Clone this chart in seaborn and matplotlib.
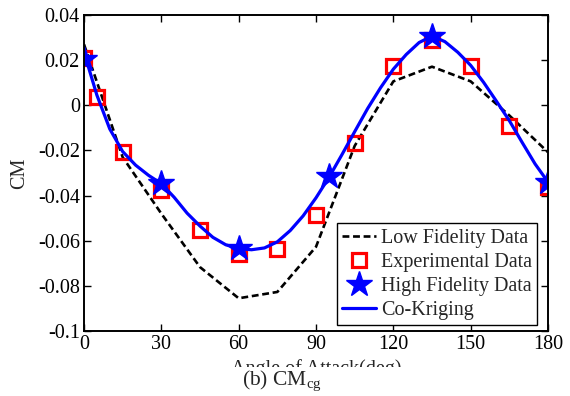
import matplotlib
matplotlib.use("Agg")
import matplotlib.pyplot as plt
import seaborn as sns
import pandas as pd
from matplotlib.patches import Rectangle

# ---- data ----
low_x = [0, 15, 30, 45, 60, 75, 90, 105, 120, 135, 150, 165, 180]
low_y = [0.027, -0.023, -0.048, -0.0717, -0.0855, -0.0827, -0.0627, -0.0180,
         0.0106, 0.0171, 0.0106, -0.0045, -0.0208]

exp_x = [0, 5, 15, 30, 45, 60, 75, 90, 105, 120, 135, 150, 165, 180]
exp_y = [0.021, 0.0038, -0.0208, -0.0375, -0.0554, -0.066, -0.0635, -0.0485,
         -0.0165, 0.0175, 0.029, 0.0175, -0.0092, -0.0361]

hf_x = [0, 30, 60, 95, 135, 180]
hf_y = [0.0204, -0.0345, -0.0633, -0.0315, 0.0308, -0.0340]

ck_x = [0, 5, 10, 15, 20, 25, 30, 35, 40, 45, 50, 55, 60, 65, 70, 75, 80, 85,
        90, 95, 100, 105, 110, 115, 120, 125, 130, 135, 140, 145, 150, 155,
        160, 165, 170, 175, 180]
ck_y = [0.0235, 0.0045, -0.0105, -0.0205, -0.0265, -0.0310, -0.0347, -0.0408,
        -0.0478, -0.0535, -0.0585, -0.0618, -0.0635, -0.0640, -0.0632,
        -0.0605, -0.0555, -0.0490, -0.0410, -0.0320, -0.0220, -0.0117,
        -0.0015, 0.0077, 0.0160, 0.0225, 0.0278, 0.0307, 0.0282, 0.0235,
        0.0177, 0.0102, 0.0018, -0.0068, -0.0165, -0.0260, -0.0340]

xticks = [0, 30, 60, 90, 120, 150, 180]
yticks = [0.04, 0.02, 0, -0.02, -0.04, -0.06, -0.08, -0.1]
ytick_labels = ["0.04", "0.02", "0", "-0.02", "-0.04", "-0.06", "-0.08", "-0.1"]

labels = ["Low Fidelity Data", "Experimental Data", "High Fidelity Data", "Co-Kriging"]

# ---- style ----
sns.set_style("ticks")
plt.rcParams["font.family"] = ["Liberation Serif", "DejaVu Serif"]
plt.rcParams["mathtext.fontset"] = "custom"
plt.rcParams["mathtext.rm"] = "Liberation Serif"
plt.rcParams["mathtext.it"] = "Liberation Serif:italic"
plt.rcParams["mathtext.bf"] = "Liberation Serif:bold"

FS = 14.5

fig = plt.figure(figsize=(5.70, 3.96), dpi=100)
ax = fig.add_axes([84/570, 65/396, 464/570, 316/396])

df_low = pd.DataFrame({"x": low_x, "y": low_y})
df_exp = pd.DataFrame({"x": exp_x, "y": exp_y})
df_hf = pd.DataFrame({"x": hf_x, "y": hf_y})
df_ck = pd.DataFrame({"x": ck_x, "y": ck_y})

sns.lineplot(data=df_low, x="x", y="y", ax=ax, color="black", linewidth=1.9,
             dashes=False, linestyle=(0, (2.6, 1.4)), label=labels[0],
             sort=False, estimator=None)
sns.lineplot(data=df_exp, x="x", y="y", ax=ax, color="red", linestyle="none",
             marker="s", markersize=10.5, markerfacecolor="none",
             markeredgecolor="red", markeredgewidth=2.3, label=labels[1],
             sort=False, estimator=None)
sns.lineplot(data=df_hf, x="x", y="y", ax=ax, color="blue", linestyle="none",
             marker="*", markersize=19, markerfacecolor="blue",
             markeredgecolor="blue", markeredgewidth=1.0, label=labels[2],
             sort=False, estimator=None)
sns.lineplot(data=df_ck, x="x", y="y", ax=ax, color="blue", linewidth=2.3,
             label=labels[3], sort=False, estimator=None)

ax.set_xlim(0, 180)
ax.set_ylim(-0.1, 0.04)
ax.set_xticks(xticks)
ax.set_xticklabels([str(t) for t in xticks])
ax.set_yticks(yticks)
ax.set_yticklabels(ytick_labels)
ax.tick_params(direction="in", top=True, right=True, length=5, width=1.0,
               labelsize=FS, colors="black", pad=3)
for s in ax.spines.values():
    s.set_linewidth(1.4)
    s.set_color("black")

ax.set_ylabel("CM", fontsize=FS)
ax.yaxis.set_label_coords(-0.118, 0.5)
ax.set_xlabel("Angle of Attack(deg)", fontsize=FS)
ax.xaxis.set_label_coords(0.5, -0.09)

leg = ax.legend(loc="lower right", bbox_to_anchor=((537-84)/464, (331-325)/316),
                borderaxespad=0, fontsize=FS, frameon=True, fancybox=False,
                edgecolor="black", framealpha=1, handlelength=1.7,
                handletextpad=0.25, borderpad=0.25, labelspacing=0.25)
leg.get_frame().set_linewidth(1.0)

# white band hiding the lower part of the x label (as in the reference)
fig.patches.append(Rectangle((0, 0), 1, 29/396, transform=fig.transFigure,
                             facecolor="white", edgecolor="none", zorder=5))
fig.text(282/570, (396-381)/396, r"(b) CM$_{\mathrm{cg}}$",
         ha="center", va="center", fontsize=15.5, zorder=10)

fig.savefig("out.png", dpi=100, facecolor="white")
